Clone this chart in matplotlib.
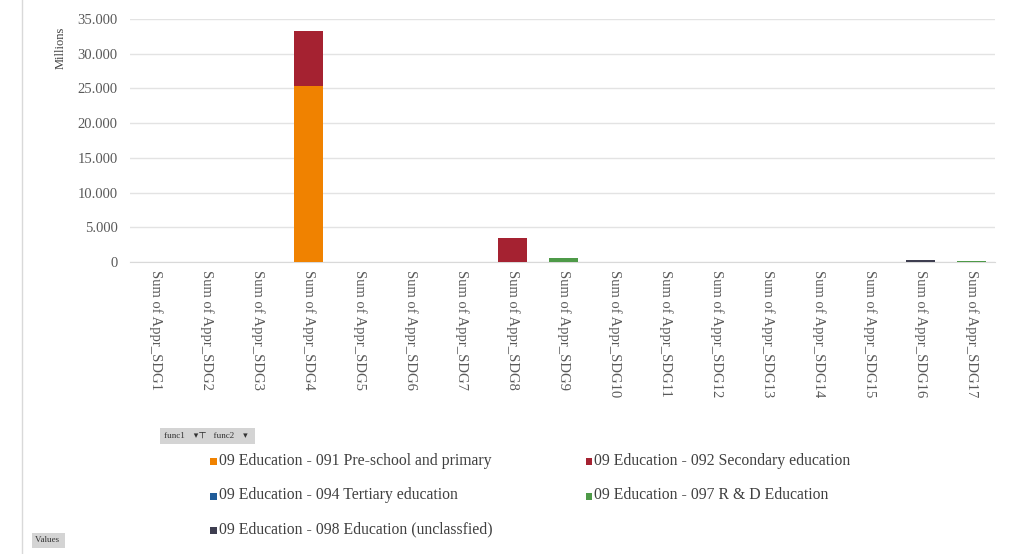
import matplotlib.pyplot as plt
import numpy as np
from matplotlib.patches import Rectangle
from matplotlib.lines import Line2D

plt.rcParams['font.family'] = ['Liberation Serif', 'DejaVu Serif']

# categorias (SDG 1..17)
categorias = ['Sum of Appr_SDG' + str(i) for i in range(1, 18)]

# valores por serie (em unidades, eixo em milhoes -> mostrado em milhares com ponto)
pre_primaria = [0, 0, 0, 25300, 0, 0, 0, 0, 0, 0, 0, 0, 0, 0, 0, 0, 0]
secundaria = [0, 0, 0, 8000, 0, 0, 0, 3450, 0, 0, 0, 0, 0, 0, 0, 0, 0]
terciaria = [0, 0, 0, 0, 0, 0, 0, 0, 0, 0, 0, 0, 0, 0, 0, 0, 0]
pesquisa = [0, 0, 0, 0, 0, 0, 0, 0, 650, 0, 0, 0, 0, 0, 0, 0, 200]
nao_class = [0, 0, 0, 0, 0, 0, 0, 0, 0, 0, 0, 0, 0, 0, 0, 350, 0]

series = [
    ('09 Education - 091 Pre-school and primary', pre_primaria, '#F08200'),
    ('09 Education - 092 Secondary education', secundaria, '#A52231'),
    ('09 Education - 094 Tertiary education', terciaria, '#1F5C99'),
    ('09 Education - 097 R & D Education', pesquisa, '#4E9A48'),
    ('09 Education - 098 Education (unclassfied)', nao_class, '#3E3E50'),
]

cinza = '#595959'

fig = plt.figure(figsize=(10.1, 5.54), dpi=100)
ax = fig.add_axes([0.129, 0.527, 0.856, 0.439])

x = np.arange(len(categorias))
base = np.zeros(len(categorias))
for nome, vals, cor in series:
    vals = np.array(vals, dtype=float)
    ax.bar(x, vals, width=0.57, bottom=base, color=cor, zorder=3)
    base += vals

ax.set_xlim(-0.5, 16.45)
ax.set_ylim(0, 35000)
ax.set_yticks(np.arange(0, 35001, 5000))
ax.set_yticklabels(['{:,}'.format(v).replace(',', '.') for v in range(0, 35001, 5000)],
                   fontsize=10.5, color=cinza)
ax.set_xticks(x)
ax.set_xticklabels(categorias, rotation=270, fontsize=10.5, color=cinza, va='top')
ax.tick_params(axis='both', length=0)
ax.tick_params(axis='y', pad=9)
ax.tick_params(axis='x', pad=6)
ax.grid(axis='y', color='#E3E3E3', linewidth=1, zorder=0)
for s in ['top', 'right', 'left']:
    ax.spines[s].set_visible(False)
ax.spines['bottom'].set_color('#D9D9D9')

fig.text(0.060, 0.914, 'Millions', rotation=90, fontsize=9, color='#404040',
         ha='center', va='center')

# linha vertical da borda esquerda
fig.add_artist(Line2D([0.022, 0.022], [0, 1], color='#D9D9D9', linewidth=1))

# botoes de filtro
fig.text(0.162, 0.213, 'func1    \u25be\u22a4   func2    \u25be  ', fontsize=6.5, color='#333333',
         va='center', bbox=dict(boxstyle='square,pad=0.4', facecolor='#D4D4D4', edgecolor='none'))
fig.text(0.035, 0.025, 'Values ', fontsize=6.5, color='#333333', va='center',
         bbox=dict(boxstyle='square,pad=0.4', facecolor='#D4D4D4', edgecolor='none'))

# legenda manual
pos = [(0.208, 0.168), (0.580, 0.168), (0.208, 0.106), (0.580, 0.106), (0.208, 0.045)]
for (nome, vals, cor), (lx, ly) in zip(series, pos):
    fig.add_artist(Rectangle((lx, ly - 0.008), 0.0065, 0.0125, transform=fig.transFigure,
                             facecolor=cor, edgecolor='none'))
    fig.text(lx + 0.0085, ly, nome, fontsize=11.3, color='#404040', va='center')

fig.savefig('out.png', dpi=100)
